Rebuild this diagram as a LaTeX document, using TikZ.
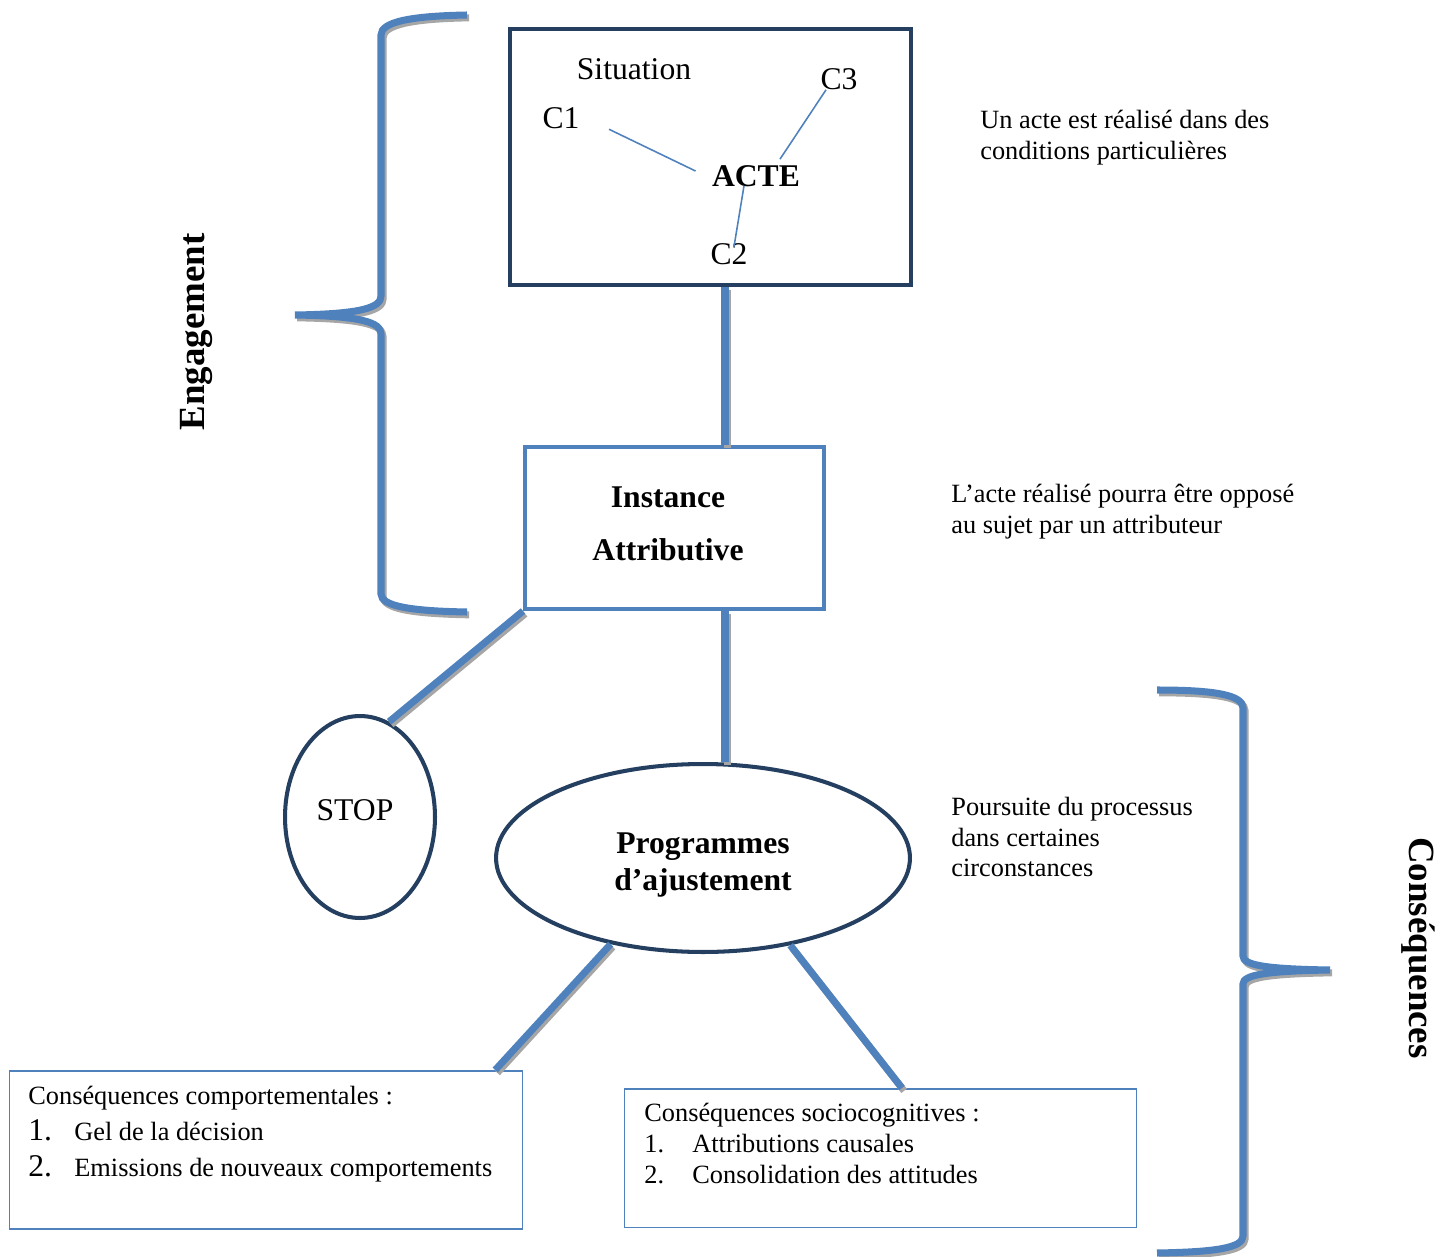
\documentclass[tikz,border=0pt]{standalone}
\usepackage{fontspec}
\setmainfont{Liberation Serif}
\usepackage{xcolor}
\usepackage{tikz}
\usetikzlibrary{shapes.geometric}

\definecolor{navy}{HTML}{243F60}
\definecolor{linkblue}{HTML}{4F81BD}
\definecolor{shade}{HTML}{A6A6A6}

\tikzset{
	bar/.style={draw=linkblue, line width=4pt, preaction={draw=shade, line width=4pt, transform canvas={xshift=1.2pt,yshift=-1.6pt}}},
	twig/.style={draw=linkblue, line width=0.9pt},
	note/.style={font=\fontsize{15}{17.6}\selectfont, align=left, anchor=west, inner sep=0pt},
	big/.style={font=\fontsize{18}{22}\selectfont},
}

\begin{document}
\begin{tikzpicture}[x=0.02cm,y=-0.02cm]
	\useasboundingbox (0,0) rectangle (1454,1257);
	% boxes and ellipses
	\node[draw=navy,line width=2.3pt,minimum width=8.02cm,minimum height=5.12cm] (sit) at (710.5,157) {};
	\node[draw=linkblue,line width=2.3pt,minimum width=5.98cm,minimum height=3.24cm,
		label={[align=center,font=\fontsize{18}{30}\selectfont\bfseries,xshift=-0.13cm,yshift=0.08cm]center:Instance\\Attributive}] (inst) at (674.5,528) {};
	\node[ellipse,draw=navy,line width=2.3pt,minimum width=3.0cm,minimum height=4.04cm,
		label={[big,xshift=-0.1cm,yshift=0.14cm]center:STOP}] (stop) at (360,817) {};
	\node[ellipse,draw=navy,line width=2.3pt,minimum width=8.28cm,minimum height=3.76cm,
		label={[align=center,font=\fontsize{18}{21}\selectfont\bfseries,yshift=-0.14cm]center:Programmes\\d’ajustement}] (prog) at (703,858) {};
	\node[draw=linkblue,line width=0.85pt,minimum width=10.26cm,minimum height=3.17cm] (behav) at (266,1150) {};
	\node[draw=linkblue,line width=0.85pt,minimum width=10.24cm,minimum height=2.77cm] (socio) at (880.5,1158) {};
	\coordinate (spine) at (725,0);

	% inside the situation
	\node[big] (situation) at (634,69) {Situation};
	\node[big] (c1) at (561,118) {C1};
	\node[big] (c3) at (839,79) {C3};
	\node[big,font=\fontsize{18}{22}\selectfont\bfseries] (acte) at (756,176) {ACTE};
	\node[big] (c2) at (729,254) {C2};
	\draw[twig, shorten <=0.52cm, shorten >=0.23cm] (c1.east) -- (acte.west);
	\draw[twig] ([xshift=-0.26cm,yshift=0.12cm]c3.south) -- ([xshift=0.48cm]acte.north);
	\draw[twig] ([xshift=-0.24cm,yshift=0.14cm]acte.south) -- ([xshift=0.1cm,yshift=-0.19cm]c2.north);

	% links
	\draw[bar] (sit.south -| spine) -- (inst.north -| spine);
	\draw[bar] (inst.south -| spine) -- (prog.north -| spine);
	\draw[bar] (inst.south west) -- (stop.73);
	\draw[bar] (prog.223) -- ([xshift=-0.56cm]behav.north east);
	\draw[bar] (prog.-45) -- ([xshift=0.43cm]socio.north);

	% braces
	\draw[bar] (467,15) .. controls (410,16) and (381,22) .. (381,35) -- (381,296)
		.. controls (381,308) and (360,314) .. (295,315)
		.. controls (360,316) and (381,322) .. (381,334) -- (381,594)
		.. controls (381,606) and (410,611) .. (467,612);
	\draw[bar] (1157,690) .. controls (1215,690) and (1243,695) .. (1243,708) -- (1243,956)
		.. controls (1243,965) and (1265,969) .. (1330,970)
		.. controls (1265,971) and (1243,975) .. (1243,984) -- (1243,1236)
		.. controls (1243,1248) and (1215,1252) .. (1157,1253);
	\node[rotate=90,font=\fontsize{21}{25}\selectfont\bfseries] (engag) at (196,332) {Engagement};
	\node[rotate=-90,font=\fontsize{21}{25}\selectfont\bfseries] (conseq) at (1418,948) {Conséquences};

	% comments on the right
	\node[note] (n1) at (980,138) {Un acte est réalisé dans des\\conditions particulières};
	\node[note] (n2) at (951,512) {L’acte réalisé pourra être opposé\\au sujet par un attributeur};
	\node[note] (n3) at (951,837) {Poursuite du processus\\dans certaines\\circonstances};

	% lists
	\node[note,font=\fontsize{15}{20.5}\selectfont] (behavtxt) at (28,1133) {\begin{tabular}{@{}p{0.92cm}@{}l@{}}
		\multicolumn{2}{@{}l@{}}{Conséquences comportementales :}\\
		{\fontsize{18}{20}\selectfont 1.} & Gel de la décision\\
		{\fontsize{18}{20}\selectfont 2.} & Emissions de nouveaux comportements
	\end{tabular}};
	\node[note] (sociotxt) at (644,1146) {\begin{tabular}{@{}p{0.96cm}@{}l@{}}
		\multicolumn{2}{@{}l@{}}{Conséquences sociocognitives :}\\
		1. & Attributions causales\\
		2. & Consolidation des attitudes
	\end{tabular}};
\end{tikzpicture}
\end{document}
